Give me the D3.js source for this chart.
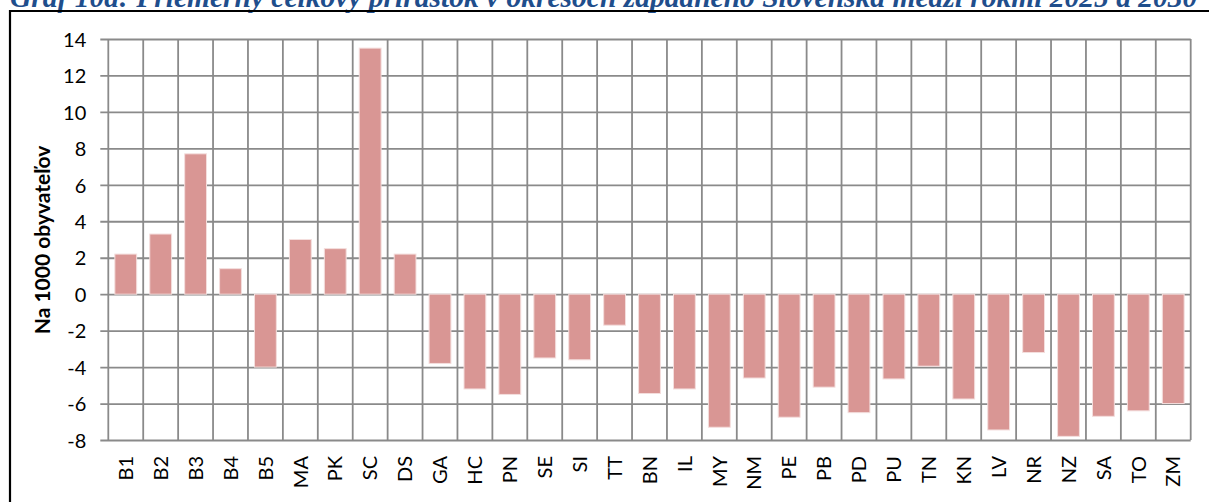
<!DOCTYPE html>
<html>
<head>
<meta charset="utf-8">
<script src="https://cdn.jsdelivr.net/npm/d3@7"></script>
<style>
  html, body { margin: 0; padding: 0; background: #fff; }
  svg { display: block; }
</style>
</head>
<body>
<div id="chart"></div>
<script>
// Okresy (kategórie) a priemerný celkový prírastok na 1000 obyvateľov
const districts = ['B1', 'B2', 'B3', 'B4', 'B5', 'MA', 'PK', 'SC', 'DS', 'GA', 'HC', 'PN', 'SE', 'SI', 'TT',
    'BN', 'IL', 'MY', 'NM', 'PE', 'PB', 'PD', 'PU', 'TN', 'KN', 'LV', 'NR', 'NZ', 'SA', 'TO', 'ZM'];
const growth = [2.2, 3.3, 7.7, 1.4, -4.0, 3.0, 2.5, 13.5, 2.2, -3.8, -5.2, -5.5, -3.5, -3.6, -1.7,
    -5.45, -5.2, -7.3, -4.6, -6.75, -5.1, -6.5, -4.65, -3.95, -5.75, -7.45, -3.2, -7.8, -6.7, -6.4, -6.0];
const yTicks = [-8, -6, -4, -2, 0, 2, 4, 6, 8, 10, 12, 14];

const titleText = 'Graf 10d: Priemerný celkový prírastok v okresoch západného Slovenska medzi rokmi 2025 a 2030';
const yTitle = 'Na 1000 obyvateľov';

const width = 1209;
const height = 502;
const plot = { left: 108.3, right: 1190.7, top: 39, bottom: 440 };
const labelFont = 'Lato, "Open Sans", sans-serif';

const svg = d3.select('#chart').append('svg')
    .attr('width', width)
    .attr('height', height);

svg.append('rect')
    .attr('width', width)
    .attr('height', height)
    .attr('fill', '#fff');

// Nadpis (v predlohe orezaný hore)
svg.append('text')
    .attr('x', 10)
    .attr('y', 7)
    .attr('font-family', '"Liberation Serif", "Times New Roman", serif')
    .attr('font-style', 'italic')
    .attr('font-weight', 'bold')
    .attr('font-size', 29.5)
    .attr('fill', '#1F4E8C')
    .text(titleText);

// Rámček
svg.append('path')
    .attr('d', `M10,${height} V11 H${width}`)
    .attr('fill', 'none')
    .attr('stroke', '#000')
    .attr('stroke-width', 2.2);

// Škály
const x = d3.scaleBand()
    .domain(districts)
    .range([plot.left, plot.right])
    .padding(0);

const y = d3.scaleLinear()
    .domain([-8, 14])
    .range([plot.bottom, plot.top]);

const gridColor = '#8a8a8a';

// Vodorovné mriežky + zárezy osi Y
const yAxis = svg.append('g')
    .attr('transform', `translate(${plot.left},0)`)
    .call(d3.axisLeft(y).tickValues(yTicks).tickSize(8).tickFormat(d => String(d)));
yAxis.select('.domain').remove();
yAxis.selectAll('.tick line')
    .attr('stroke', gridColor)
    .attr('stroke-width', 1.8)
    .attr('x2', plot.right - plot.left)
    .attr('x1', -8);
yAxis.selectAll('.tick text')
    .attr('font-family', labelFont)
    .attr('font-size', 20)
    .attr('fill', '#000')
    .attr('x', -22)
    .attr('dy', '0.36em');

// Zvislé mriežky medzi kategóriami
const boundaries = districts.map(d => x(d)).concat([plot.right]);
svg.append('g')
    .selectAll('line')
    .data(boundaries)
    .join('line')
    .attr('x1', d => d)
    .attr('x2', d => d)
    .attr('y1', plot.top)
    .attr('y2', plot.bottom)
    .attr('stroke', gridColor)
    .attr('stroke-width', 1.8);

// Stĺpce
const barW = x.bandwidth() / 1.6;
svg.append('g')
    .selectAll('rect')
    .data(districts.map((d, i) => ({ district: d, value: growth[i] })))
    .join('rect')
    .attr('x', d => x(d.district) + (x.bandwidth() - barW) / 2)
    .attr('width', barW)
    .attr('y', d => y(Math.max(0, d.value)))
    .attr('height', d => Math.abs(y(d.value) - y(0)))
    .attr('fill', '#D99694')
    .attr('stroke', '#F4DEDD')
    .attr('stroke-width', 1);

// Popisky osi X
svg.append('g')
    .selectAll('text')
    .data(districts)
    .join('text')
    .attr('transform', d => `translate(${x(d) + x.bandwidth() / 2},456) rotate(-90)`)
    .attr('text-anchor', 'end')
    .attr('dy', '0.36em')
    .attr('font-family', labelFont)
    .attr('font-size', 20)
    .attr('fill', '#000')
    .text(d => d);

// Názov osi Y
svg.append('text')
    .attr('transform', 'translate(42,240) rotate(-90)')
    .attr('text-anchor', 'middle')
    .attr('dy', '0.36em')
    .attr('font-family', labelFont)
    .attr('font-weight', 'bold')
    .attr('font-size', 21)
    .attr('fill', '#000')
    .text(yTitle);
</script>
</body>
</html>
